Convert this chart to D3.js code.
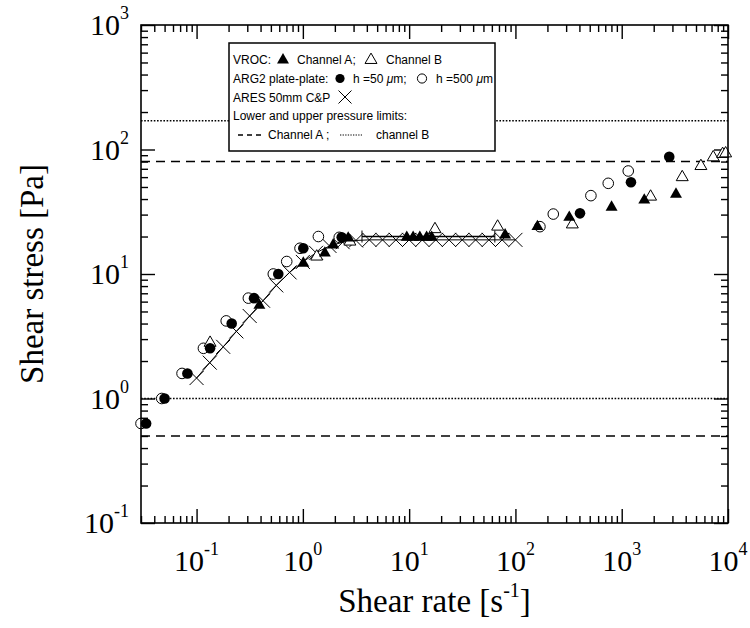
<!DOCTYPE html>
<html><head><meta charset="utf-8">
<script src="https://cdn.jsdelivr.net/npm/d3@7"></script>
<style>body{margin:0;background:#fff} svg{display:block}</style>
</head><body><svg id="c" width="750" height="628"></svg>
<script>
// ---------- data ----------
const xDomain = [0.03, 1e4];
const yDomain = [0.1, 1000];
const xTickExps = [-1, 0, 1, 2, 3, 4];
const yTickExps = [-1, 0, 1, 2, 3];

const vrocA_x = [0.39, 1.01, 1.61, 1.93, 2.67, 9.5, 10.9, 12.6, 14.6, 16.3, 80, 161, 321, 803, 1630, 3240];
const vrocA_y = [5.6, 12.2, 14.7, 17.1, 19.4, 19.7, 19.7, 19.7, 19.7, 19.7, 20.6, 24, 28.5, 34.4, 39.2, 43.7];
const vrocB_x = [0.134, 1.35, 2.77, 17.5, 68, 343, 1870, 3710, 5560, 7260, 8900, 9500];
const vrocB_y = [2.8, 13.8, 18.2, 22.9, 24, 25, 41.8, 59.9, 73.6, 86.5, 92, 93];
const arg50_x = [0.0335, 0.05, 0.082, 0.134, 0.214, 0.347, 0.587, 1.01, 2.32, 405, 1222, 2800];
const arg50_y = [0.63, 1.0, 1.59, 2.53, 4.0, 6.4, 10.0, 16.1, 19.7, 30.7, 54.6, 87.5];
const arg500_x = [0.030, 0.047, 0.073, 0.116, 0.19, 0.307, 0.527, 0.705, 0.94, 1.40, 2.2, 170, 227, 513, 747, 1152];
const arg500_y = [0.63, 1.0, 1.59, 2.53, 4.2, 6.4, 10.0, 12.6, 16.1, 20, 19.7, 24, 30.3, 42.6, 53.5, 67.2];
const ares_x = [0.1, 0.133, 0.178, 0.237, 0.316, 0.422, 0.562, 0.75, 1.0, 1.33, 1.78, 2.37, 3.16, 4.22, 5.62, 7.5, 10, 13.3, 17.8, 23.7, 31.6, 42.2, 56.2, 75, 100];
const ares_y = [1.46, 1.94, 2.6, 3.46, 4.6, 6.1, 8.1, 10.3, 12.5, 14.8, 16.8, 18.0, 18.6, 18.8, 18.8, 18.8, 18.8, 18.8, 18.8, 18.8, 18.8, 18.8, 18.8, 18.8, 18.8];
const plateau_x = [3.6, 64];
const plateau_y = [20, 20];
const limitA = [0.5, 80];      // channel A lower / upper (dashed)
const limitB = [1.0, 170];     // channel B lower / upper (dotted)

// ---------- layout ----------
const svg = d3.select("#c");
const L = 141, R = 728, T = 25, B = 523;
const x = d3.scaleLog().domain(xDomain).range([L, R]);
const y = d3.scaleLog().domain(yDomain).range([B, T]);
const serif = "'Liberation Serif','Times New Roman',Times,serif";
const sans = "'Liberation Sans',Arial,Helvetica,sans-serif";

function minors(dom) {
  const out = [];
  for (let e = Math.floor(Math.log10(dom[0])); e <= Math.ceil(Math.log10(dom[1])); e++)
    for (let m = 2; m <= 9; m++) { const v = m * Math.pow(10, e); if (v >= dom[0] && v <= dom[1]) out.push(v); }
  return out;
}
const xMaj = xTickExps.map(e => Math.pow(10, e)), yMaj = yTickExps.map(e => Math.pow(10, e));
const xMin = minors(xDomain), yMin = minors(yDomain);

const plot = svg.append("g");

// pressure limit lines
function hline(v, dash) {
  plot.append("line").attr("x1", L).attr("x2", R).attr("y1", y(v)).attr("y2", y(v))
    .attr("stroke", "#000").attr("stroke-width", 1.4).attr("stroke-dasharray", dash);
}
limitA.forEach(v => hline(v, "9,6"));
limitB.forEach(v => hline(v, "1.6,1.6"));

// axes ticks (inward, on all four sides)
function ax(gen, tx, ty) {
  const g = svg.append("g").attr("transform", `translate(${tx},${ty})`).call(gen);
  g.select(".domain").remove();
  g.selectAll("line").attr("stroke", "#000").attr("stroke-width", 1.4);
  g.selectAll("text").remove();
}
ax(d3.axisBottom(x).tickValues(xMin).tickSize(-7), 0, B);
ax(d3.axisBottom(x).tickValues(xMaj).tickSize(-14), 0, B);
ax(d3.axisTop(x).tickValues(xMin).tickSize(-7), 0, T);
ax(d3.axisTop(x).tickValues(xMaj).tickSize(-14), 0, T);
ax(d3.axisLeft(y).tickValues(yMin).tickSize(-7), L, 0);
ax(d3.axisLeft(y).tickValues(yMaj).tickSize(-14), L, 0);
ax(d3.axisRight(y).tickValues(yMin).tickSize(-7), R, 0);
ax(d3.axisRight(y).tickValues(yMaj).tickSize(-14), R, 0);

// tick labels
const expStr = e => (e < 0 ? "-" + (-e) : "" + e);
xTickExps.forEach(e => {
  const t = svg.append("text").attr("x", x(Math.pow(10, e))).attr("y", 571)
    .attr("text-anchor", "middle").attr("font-family", serif).attr("font-size", 30);
  t.append("tspan").text("10");
  t.append("tspan").attr("dy", -16).attr("font-size", 18).text(expStr(e));
});
yTickExps.forEach(e => {
  const t = svg.append("text").attr("x", 129).attr("y", y(Math.pow(10, e)) + 10)
    .attr("text-anchor", "end").attr("font-family", serif).attr("font-size", 30);
  t.append("tspan").text("10");
  t.append("tspan").attr("dy", -16).attr("font-size", 18).text(expStr(e));
});

// axis titles
const xt = svg.append("text").attr("x", (L + R) / 2).attr("y", 612).attr("text-anchor", "middle")
  .attr("font-family", serif).attr("font-size", 33);
xt.append("tspan").text("Shear rate [s");
xt.append("tspan").attr("dy", -15).attr("font-size", 20).text("-1");
xt.append("tspan").attr("dy", 15).text("]");
svg.append("text").attr("transform", `translate(43,${(T + B) / 2}) rotate(-90)`).attr("text-anchor", "middle")
  .attr("font-family", serif).attr("font-size", 33).text("Shear stress [Pa]");

// ---------- data marks ----------
const marks = svg.append("g");
const zip = (xs, ys) => xs.map((v, i) => [v, ys[i]]);
const crossPath = s => `M${-s},${-s}L${s},${s}M${-s},${s}L${s},${-s}`;

// ARES cone & plate
marks.append("path").datum(zip(ares_x, ares_y))
  .attr("d", d3.line().x(d => x(d[0])).y(d => y(d[1])))
  .attr("fill", "none").attr("stroke", "#000").attr("stroke-width", 1);
marks.selectAll(".ares").data(zip(ares_x, ares_y)).join("path")
  .attr("transform", d => `translate(${x(d[0])},${y(d[1])})`)
  .attr("d", crossPath(7)).attr("stroke", "#000").attr("stroke-width", 1).attr("fill", "none");
// plateau line with end bars
marks.append("path").datum(zip(plateau_x, plateau_y))
  .attr("d", d3.line().x(d => x(d[0])).y(d => y(d[1])))
  .attr("stroke", "#000").attr("stroke-width", 1.4);
zip(plateau_x, plateau_y).forEach(d => marks.append("line")
  .attr("x1", x(d[0])).attr("x2", x(d[0])).attr("y1", y(d[1]) - 6).attr("y2", y(d[1]) + 6)
  .attr("stroke", "#000").attr("stroke-width", 1));

const tri = d3.symbol().type(d3.symbolTriangle).size(62);
// open circles (ARG2 h = 500 um)
marks.selectAll(".o500").data(zip(arg500_x, arg500_y)).join("circle")
  .attr("cx", d => x(d[0])).attr("cy", d => y(d[1])).attr("r", 5.3)
  .attr("fill", "#fff").attr("stroke", "#000").attr("stroke-width", 1);
// open triangles (VROC channel B)
marks.selectAll(".tB").data(zip(vrocB_x, vrocB_y)).join("path")
  .attr("transform", d => `translate(${x(d[0])},${y(d[1])})`).attr("d", tri)
  .attr("fill", "#fff").attr("stroke", "#000").attr("stroke-width", 1);
// filled circles (ARG2 h = 50 um)
marks.selectAll(".f50").data(zip(arg50_x, arg50_y)).join("circle")
  .attr("cx", d => x(d[0])).attr("cy", d => y(d[1])).attr("r", 5.3).attr("fill", "#000");
// filled triangles (VROC channel A)
marks.selectAll(".tA").data(zip(vrocA_x, vrocA_y)).join("path")
  .attr("transform", d => `translate(${x(d[0])},${y(d[1])})`).attr("d", tri).attr("fill", "#000");

// frame
svg.append("rect").attr("x", L).attr("y", T).attr("width", R - L).attr("height", B - T)
  .attr("fill", "none").attr("stroke", "#000").attr("stroke-width", 1.6);

// ---------- legend ----------
const lg = svg.append("g");
const LX = 229, LY = 43, LW = 266, LH = 108;
const FS = 12;
lg.append("rect").attr("x", LX).attr("y", LY).attr("width", LW).attr("height", LH)
  .attr("fill", "#fff").attr("stroke", "#000").attr("stroke-width", 1.5);
const txt = (s, tx, ty) => lg.append("text").attr("x", tx).attr("y", ty)
  .attr("font-family", sans).attr("font-size", FS).text(s);
const rows = [64, 83, 101.5, 120, 139];
txt("VROC:", 233, rows[0]);
lg.append("path").attr("transform", `translate(283,${rows[0] - 4})`).attr("d", tri).attr("fill", "#000");
txt("Channel A;", 297, rows[0]);
lg.append("path").attr("transform", `translate(371,${rows[0] - 4})`).attr("d", tri)
  .attr("fill", "#fff").attr("stroke", "#000").attr("stroke-width", 1);
txt("Channel B", 386, rows[0]);
txt("ARG2 plate-plate:", 233, rows[1]);
lg.append("circle").attr("cx", 340).attr("cy", rows[1] - 4.5).attr("r", 4.6).attr("fill", "#000");
const t2 = lg.append("text").attr("x", 353).attr("y", rows[1]).attr("font-family", sans).attr("font-size", FS);
t2.append("tspan").text("h =50 ");
t2.append("tspan").attr("font-style", "italic").text("μ");
t2.append("tspan").text("m;");
lg.append("circle").attr("cx", 422).attr("cy", rows[1] - 4.5).attr("r", 4.6)
  .attr("fill", "#fff").attr("stroke", "#000").attr("stroke-width", 1);
const t3 = lg.append("text").attr("x", 436).attr("y", rows[1]).attr("font-family", sans).attr("font-size", FS);
t3.append("tspan").text("h =500 ");
t3.append("tspan").attr("font-style", "italic").text("μ");
t3.append("tspan").text("m");
txt("ARES 50mm C&P", 233, rows[2]);
lg.append("path").attr("transform", `translate(345,${rows[2] - 4.5})`).attr("d", crossPath(6.5))
  .attr("stroke", "#000").attr("stroke-width", 1);
txt("Lower and upper pressure limits:", 233, rows[3]);
lg.append("line").attr("x1", 238).attr("x2", 262).attr("y1", rows[4] - 4).attr("y2", rows[4] - 4)
  .attr("stroke", "#000").attr("stroke-width", 1.3).attr("stroke-dasharray", "5,4");
txt("Channel A ;", 268, rows[4]);
lg.append("line").attr("x1", 340).attr("x2", 362).attr("y1", rows[4] - 4).attr("y2", rows[4] - 4)
  .attr("stroke", "#000").attr("stroke-width", 1.2).attr("stroke-dasharray", "1.3,1.3");
txt("channel B", 376, rows[4]);
</script></body></html>
